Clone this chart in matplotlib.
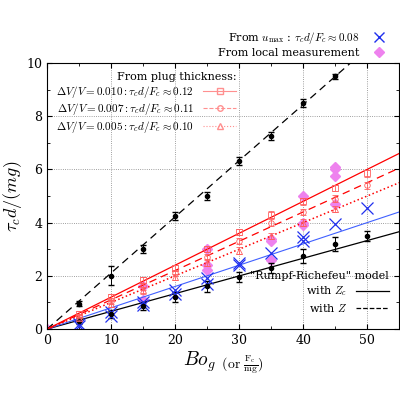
import matplotlib
matplotlib.use("Agg")
import matplotlib.pyplot as plt
import numpy as np
from matplotlib.lines import Line2D

plt.rcParams['mathtext.fontset'] = 'cm'
plt.rcParams['font.family'] = 'DejaVu Serif'

bo = [5, 10, 15, 20, 25, 30, 35, 40, 45, 50]
black_hi_x = [5, 10, 15, 20, 25, 30, 35, 40, 45]
black_hi = [0.95, 2.0, 3.0, 4.25, 5.0, 6.3, 7.25, 8.5, 9.5]
black_hi_err = [0.1, 0.35, 0.15, 0.15, 0.15, 0.15, 0.15, 0.15, 0.1]
black_lo = [0.3, 0.55, 0.85, 1.2, 1.6, 1.95, 2.3, 2.75, 3.2, 3.5]
black_lo_err = [0.1, 0.15, 0.15, 0.2, 0.2, 0.2, 0.2, 0.25, 0.25, 0.2]
sq = [0.55, 1.2, 1.85, 2.3, 3.0, 3.65, 4.3, 4.8, 5.3, 5.85]
ci = [0.45, 1.05, 1.6, 2.1, 2.7, 3.3, 4.0, 4.4, 4.9, 5.4]
tr_x = [5, 10, 15, 20, 25, 30, 35, 40, 45]
tr = [0.4, 0.95, 1.45, 1.95, 2.5, 2.95, 3.5, 4.0, 4.5]
blue_x = [5, 5, 10, 10, 15, 15, 20, 20, 25, 25, 30, 30, 35, 40, 40, 45, 50]
blue_y = [0.1, 0.2, 0.5, 0.65, 0.9, 1.0, 1.3, 1.45, 1.7, 1.9, 2.4, 2.5, 2.85, 3.3, 3.45, 3.95, 4.55]
pink_x = [0, 15, 15, 25, 25, 25, 35, 35, 35, 40, 40, 40, 45, 45, 45, 45]
pink_y = [0, 1.1, 1.6, 2.2, 2.4, 3.0, 2.6, 3.3, 3.4, 3.9, 4.0, 5.0, 4.7, 5.75, 6.0, 6.1]
slope_dash_black = 0.211
slope_black = 0.0665
slope_blue = 0.08
slopes_red = [0.12, 0.11, 0.10]

fig = plt.figure(figsize=(4, 4), dpi=100)
ax = fig.add_axes([0.118, 0.1775, 0.88, 0.665])
xx = np.array([0, 55])
ax.plot(pink_x, pink_y, 'D', color='violet', ms=5, ls='none')
ax.plot(xx, slope_dash_black * xx, 'k--', lw=0.9, dashes=(6, 4))
ax.plot(xx, slope_black * xx, 'k-', lw=0.9)
ax.plot(xx, slope_blue * xx, '-', color='#4060ff', lw=0.8)
ax.plot(xx, slopes_red[0] * xx, '-', color='red', lw=0.9)
ax.plot(xx, slopes_red[1] * xx, '--', color='red', lw=0.9, dashes=(6, 4))
ax.plot(xx, slopes_red[2] * xx, ':', color='red', lw=1.1)

ek = dict(fmt='o', color='k', ms=3, elinewidth=0.7, capsize=2)
ax.errorbar(black_hi_x, black_hi, yerr=black_hi_err, **ek)
ax.errorbar(bo, black_lo, yerr=black_lo_err, **ek)
rk = dict(color='#ff6060', ms=4, mfc='none', elinewidth=0.6, capsize=2, ls='none', mew=0.6)
ax.errorbar(bo, sq, yerr=0.12, marker='s', **rk)
ax.errorbar(bo, ci, yerr=0.12, marker='o', **rk)
ax.errorbar(tr_x, tr, yerr=0.12, marker='^', **rk)
ax.plot(blue_x, blue_y, 'x', color='#2030ee', ms=8, mew=0.9, ls='none')

ax.set_xlim(0, 55)
ax.set_ylim(0, 10)
ax.set_xticks([0, 10, 20, 30, 40, 50])
ax.set_yticks([0, 2, 4, 6, 8, 10])
ax.set_xticks(np.arange(0, 56, 5), minor=True)
ax.set_yticks(np.arange(0, 10.1, 1), minor=True)
ax.grid(True, which='major', ls=':', color='gray', lw=0.6)
ax.tick_params(direction='in', top=True, right=True, which='both', labelsize=9)
ax.set_xlabel(r'$Bo_g$ $_{\rm (or\ \frac{F_c}{mg})}$', fontsize=14, labelpad=2)
ax.set_ylabel(r'$\tau_c d/(mg)$', fontsize=13, labelpad=2)

h1 = Line2D([], [], marker='x', color='#2030ee', ls='none', ms=7)
h2 = Line2D([], [], marker='D', color='violet', ls='none', ms=5)
fig.legend([h1, h2], [r'From $u_{\max}$ : $\tau_c d/F_c\approx0.08$', 'From local measurement'],
           loc='upper right', bbox_to_anchor=(0.99, 0.94), frameon=False, fontsize=8,
           markerfirst=False, handlelength=2, borderpad=0, labelspacing=0.2)

hs = [Line2D([], [], color='#ff9090', marker=m, mfc='none', ls=s, lw=0.8, ms=4)
      for s, m in zip(['-', '--', ':'], ['s', 'o', '^'])]
lg = ax.legend(hs, [r'$\Delta V/V = 0.010 : \tau_c d/F_c \approx 0.12$',
                    r'$\Delta V/V = 0.007 : \tau_c d/F_c \approx 0.11$',
                    r'$\Delta V/V = 0.005 : \tau_c d/F_c \approx 0.10$'],
               title='From plug thickness:', loc='upper left', bbox_to_anchor=(0.0, 1.0),
               frameon=False, fontsize=8, title_fontsize=8, markerfirst=False,
               handlelength=3, borderpad=0.3, labelspacing=0.15)
lg._legend_box.align = 'right'
ax.add_artist(lg)
hm = [Line2D([], [], color='k', ls='-', lw=0.9), Line2D([], [], color='k', ls='--', lw=0.9)]
lg2 = ax.legend(hm, [r'with $Z_c$', r'with $Z$'], title='"Rumpf-Richefeu" model',
                loc='lower right', bbox_to_anchor=(1.0, 0.02), frameon=False, fontsize=8,
                title_fontsize=8, markerfirst=False, handlelength=3, labelspacing=0.3)
lg2._legend_box.align = 'right'

fig.savefig('out.png', dpi=100)
